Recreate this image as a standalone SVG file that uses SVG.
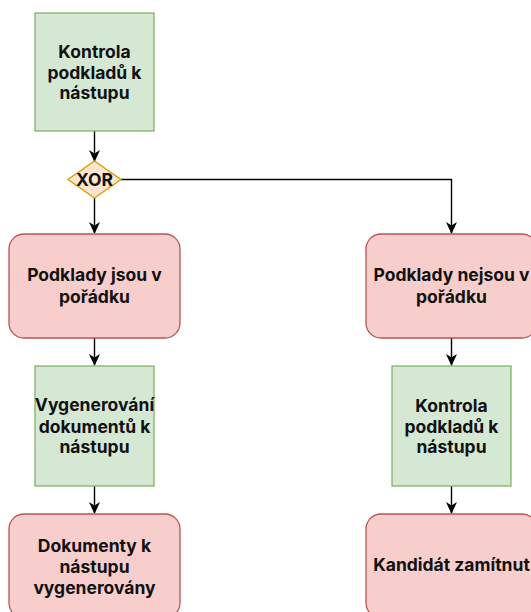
<svg xmlns="http://www.w3.org/2000/svg" width="531" height="612" viewBox="0 0 531 612">
<defs>
<marker id="arr" viewBox="0 0 12 12" refX="11" refY="6" markerWidth="12" markerHeight="12" markerUnits="userSpaceOnUse" orient="auto">
<path d="M0,0.5 L12,6 L0,11.5 L3.5,6 Z" fill="#000"/>
</marker>
<style>
.g{fill:#d5e8d4;stroke:#82b366;stroke-width:1.3}
.r{fill:#f8cecc;stroke:#b85450;stroke-width:1.3}
.d{fill:#ffe6cc;stroke:#d79b00;stroke-width:1.3}
.t{font-family:Inter,"Liberation Sans",sans-serif;font-weight:bold;font-size:17.5px;fill:#111;text-anchor:middle}
.c{fill:none;stroke:#000;stroke-width:1.4;marker-end:url(#arr)}
</style>
</defs>
<rect width="531" height="612" fill="#fff"/>
<g id="connectors">
<path class="c" d="M94.5,131 V161"/>
<path class="c" d="M94.5,197 V233"/>
<path class="c" d="M121,179.5 H451.5 V233"/>
<path class="c" d="M94.5,338 V365"/>
<path class="c" d="M94.5,486 V513"/>
<path class="c" d="M451.5,338 V365"/>
<path class="c" d="M451.5,486 V513"/>
</g>
<g id="n1"><rect class="g" x="35" y="13" width="119" height="118"/>
<text class="t" x="94.5" y="58">Kontrola</text><text class="t" x="94.5" y="79">podkladů k</text><text class="t" x="94.5" y="99">nástupu</text></g>
<g id="xor"><path class="d" d="M94.5,161 L121,179.5 L94.5,198 L68,179.5 Z"/>
<text class="t" x="94.5" y="186">XOR</text></g>
<g id="n2"><rect class="r" x="9" y="234" width="171" height="104" rx="15"/>
<text class="t" x="94.5" y="281">Podklady jsou v</text><text class="t" x="94.5" y="303">pořádku</text></g>
<g id="n3"><rect class="r" x="366" y="234" width="171" height="104" rx="15"/>
<text class="t" x="451.5" y="281">Podklady nejsou v</text><text class="t" x="451.5" y="303">pořádku</text></g>
<g id="n4"><rect class="g" x="35" y="366" width="119" height="120"/>
<text class="t" x="94.5" y="411">Vygenerování</text><text class="t" x="94.5" y="433">dokumentů k</text><text class="t" x="94.5" y="453">nástupu</text></g>
<g id="n5"><rect class="g" x="392" y="366" width="119" height="120"/>
<text class="t" x="451.5" y="412">Kontrola</text><text class="t" x="451.5" y="433">podkladů k</text><text class="t" x="451.5" y="453">nástupu</text></g>
<g id="n6"><rect class="r" x="9" y="514" width="171" height="104" rx="15"/>
<text class="t" x="94.5" y="552">Dokumenty k</text><text class="t" x="94.5" y="573">nástupu</text><text class="t" x="94.5" y="594">vygenerovány</text></g>
<g id="n7"><rect class="r" x="366" y="514" width="171" height="104" rx="15"/>
<text class="t" x="451.5" y="571">Kandidát zamítnut</text></g>
</svg>
